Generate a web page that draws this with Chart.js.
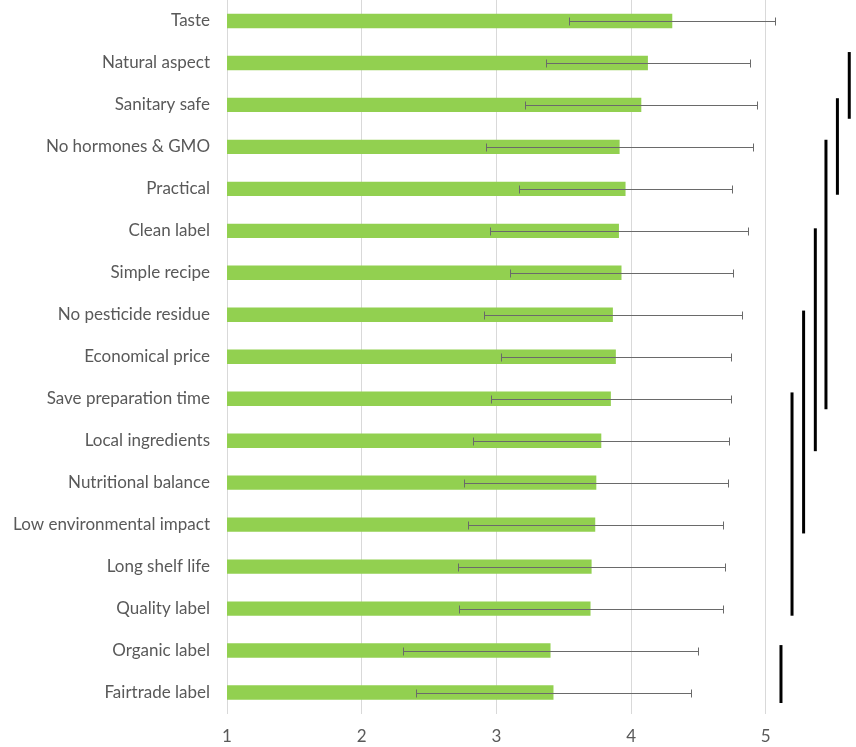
<!DOCTYPE html>
<html>
<head>
    <title>Product attributes</title>
    <script src="https://cdn.jsdelivr.net/npm/chart.js@4"></script>
    <style>
        body { margin: 0; background: #fff; }
    </style>
</head>
<body>
<canvas id="myChart" width="856" height="747"></canvas>

<script>
// mean score per attribute, with its standard deviation
var categories = ['Taste', 'Natural aspect', 'Sanitary safe', 'No hormones & GMO', 'Practical',
    'Clean label', 'Simple recipe', 'No pesticide residue', 'Economical price', 'Save preparation time',
    'Local ingredients', 'Nutritional balance', 'Low environmental impact', 'Long shelf life',
    'Quality label', 'Organic label', 'Fairtrade label'];
var means = [4.306, 4.125, 4.076, 3.915, 3.959, 3.910, 3.929, 3.865, 3.887, 3.850,
    3.779, 3.742, 3.734, 3.707, 3.699, 3.402, 3.424];
var sds = [0.765, 0.76, 0.86, 0.99, 0.79, 0.955, 0.83, 0.96, 0.855, 0.89,
    0.95, 0.98, 0.945, 0.99, 0.98, 1.094, 1.02];
var xTicks = [1, 2, 3, 4, 5];

// groups that do not differ: x value, first and last category (index units)
var groupX = [5.62, 5.532, 5.447, 5.368, 5.281, 5.195, 5.113];
var groupFrom = [0.74, 1.84, 2.83, 4.94, 6.9, 8.85, 14.87];
var groupTo = [2.33, 4.14, 9.25, 10.25, 12.21, 14.17, 16.25];

var extras = {
    id: 'extras',
    afterDatasetsDraw: function(chart) {
        var ctx = chart.ctx;
        var x = chart.scales.x, y = chart.scales.y;
        ctx.save();
        // error bars
        ctx.strokeStyle = '#6a6a6a';
        ctx.lineWidth = 1;
        for (var i = 0; i < means.length; i++) {
            var yc = Math.round(y.getPixelForValue(i)) + 0.5;
            var x0 = Math.round(x.getPixelForValue(means[i] - sds[i])) + 0.5;
            var x1 = Math.round(x.getPixelForValue(means[i] + sds[i])) + 0.5;
            ctx.beginPath();
            ctx.moveTo(x0, yc); ctx.lineTo(x1, yc);
            ctx.moveTo(x0, yc - 4); ctx.lineTo(x0, yc + 4);
            ctx.moveTo(x1, yc - 4); ctx.lineTo(x1, yc + 4);
            ctx.stroke();
        }
        // grouping lines
        ctx.strokeStyle = '#000';
        ctx.lineWidth = 3;
        for (var g = 0; g < groupX.length; g++) {
            var gx = x.getPixelForValue(groupX[g]);
            ctx.beginPath();
            ctx.moveTo(gx, y.getPixelForValue(groupFrom[g]));
            ctx.lineTo(gx, y.getPixelForValue(groupTo[g]));
            ctx.stroke();
        }
        ctx.restore();
    }
};

function noPad(scale) {
    scale.paddingTop = 0;
    scale.paddingBottom = 0;
    scale.paddingLeft = 0;
    scale.paddingRight = 0;
}

var ctx = document.getElementById('myChart').getContext('2d');
var myChart = new Chart(ctx, {
    type: 'bar',
    data: {
        labels: categories,
        datasets: [{
            data: means,
            backgroundColor: '#92d050',
            barPercentage: 0.343,
            categoryPercentage: 1
        }]
    },
    options: {
        indexAxis: 'y',
        responsive: false,
        animation: false,
        layout: { padding: 0 },
        plugins: { legend: { display: false }, tooltip: { enabled: false } },
        scales: {
            x: {
                min: 1,
                max: 5.67,
                afterBuildTicks: function(scale) {
                    scale.ticks = xTicks.map(function(v) { return { value: v }; });
                },
                afterFit: function(scale) { scale.height = 33.5; noPad(scale); },
                grid: { color: '#d9d9d9', drawTicks: false },
                border: { display: false },
                ticks: {
                    padding: 13,
                    color: '#595959',
                    font: { family: 'Lato', size: 17 }
                }
            },
            y: {
                afterFit: function(scale) { scale.width = 227; noPad(scale); },
                grid: { display: false, drawTicks: false },
                border: { display: false },
                ticks: {
                    padding: 17,
                    color: '#595959',
                    font: { family: 'Lato', size: 17 }
                }
            }
        }
    },
    plugins: [extras]
});
</script>
</body>
</html>
